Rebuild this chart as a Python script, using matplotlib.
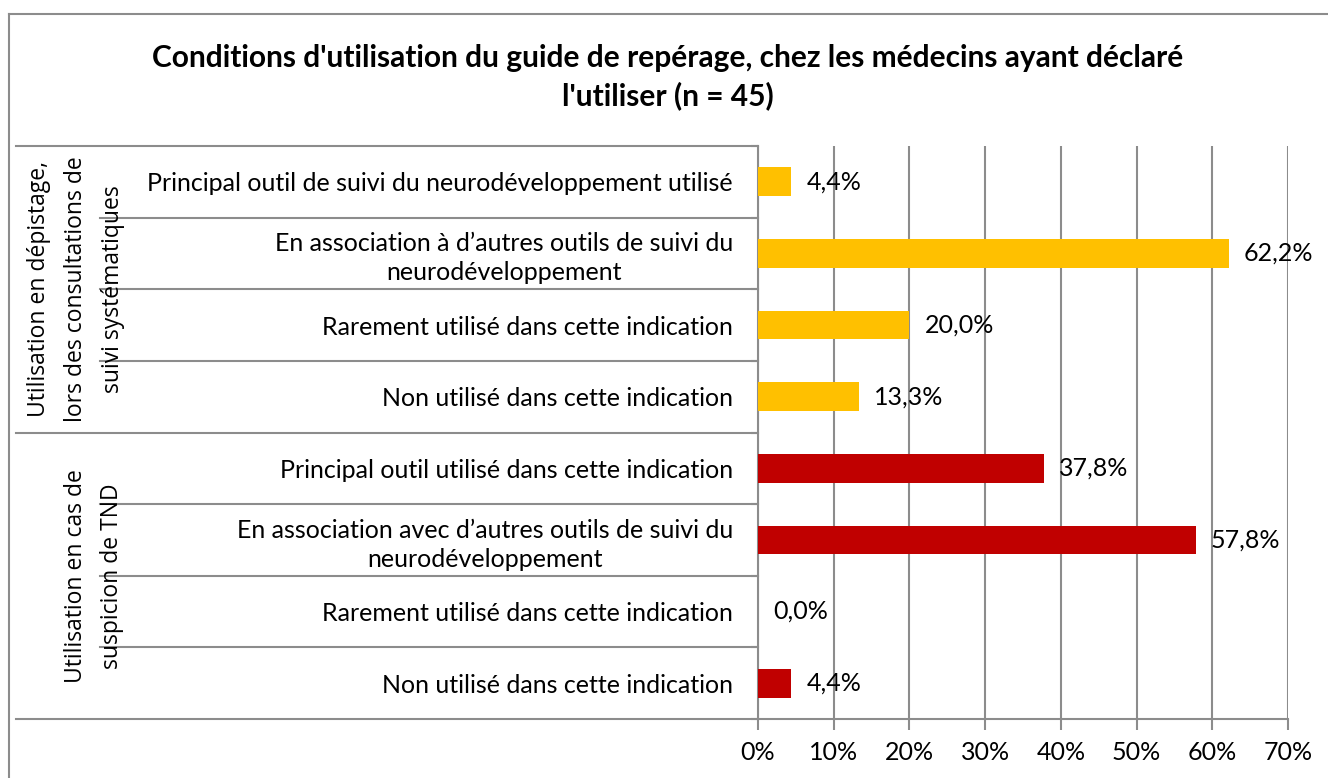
import matplotlib
matplotlib.use('Agg')
import matplotlib.pyplot as plt
from matplotlib.lines import Line2D
import matplotlib.transforms as mtrans

# data
categories = [
    "Principal outil de suivi du neurodéveloppement utilisé",
    "En association à d\u2019autres outils de suivi du\nneurodéveloppement",
    "Rarement utilisé dans cette indication",
    "Non utilisé dans cette indication",
    "Principal outil utilisé dans cette indication",
    "En association avec d\u2019autres outils de suivi du\nneurodéveloppement",
    "Rarement utilisé dans cette indication",
    "Non utilisé dans cette indication",
]
values = [4.4, 62.2, 20.0, 13.3, 37.8, 57.8, 0.0, 4.4]
groups = ["Utilisation en dépistage,\nlors des consultations de\nsuivi systématiques",
          "Utilisation en cas de\nsuspicion de TND"]
group_sizes = [4, 4]
group_colors = ["#FFC000", "#C00000"]
xticks = [0, 10, 20, 30, 40, 50, 60, 70]
title = "Conditions d'utilisation du guide de repérage, chez les médecins ayant déclaré\nl'utiliser (n = 45)"

W, H = 1328, 778
grey = "#8c8c8c"
lab_font = ['Lato', 'DejaVu Sans']

fig = plt.figure(figsize=(W / 100, H / 100), dpi=100)
x0, x1, y0, y1 = 758, 1288, 146, 719
ax = fig.add_axes([x0 / W, 1 - y1 / H, (x1 - x0) / W, (y1 - y0) / H])

colors = []
for c, n in zip(group_colors, group_sizes):
    colors += [c] * n
ypos = list(range(len(values)))
ax.barh(ypos, values, height=0.4, color=colors, zorder=3)

for y, v in zip(ypos, values):
    ax.text(v + 2.0, y, f"{v:.1f}%".replace('.', ','), va='center', ha='left',
            fontsize=18, family=lab_font, zorder=4)

ax.set_xlim(0, 70)
ax.set_ylim(len(values) - 0.5, -0.5)
ax.set_xticks(xticks)
ax.set_xticklabels([f"{t}%" for t in xticks], fontsize=18, family=lab_font)
ax.tick_params(axis='x', length=8, width=1.5, color=grey, pad=8)
ax.xaxis.grid(True, color=grey, lw=1.5, zorder=0)

ax.set_yticks(ypos)
ax.set_yticklabels(categories, fontsize=18, family=lab_font, linespacing=1.3)
for lab in ax.get_yticklabels():
    lab.set_multialignment('center')
ax.tick_params(axis='y', which='major', length=0, pad=18)
ax.set_yticks([i - 0.5 for i in range(len(values) + 1)], minor=True)
ax.tick_params(axis='y', which='minor', length=5, width=1.5, color=grey)

for s in ['top', 'right']:
    ax.spines[s].set_visible(False)
for s in ['left', 'bottom']:
    ax.spines[s].set_color(grey)
    ax.spines[s].set_linewidth(1.5)

# separators in the label area
trans = mtrans.blended_transform_factory(ax.transAxes, ax.transData)
ax_w = x1 - x0
start = 0
group_x = [76, 94]
for gi, (g, n) in enumerate(zip(groups, group_sizes)):
    for k in range(1, n):
        yy = start + k - 0.5
        ax.add_line(Line2D([(100 - x0) / ax_w, 0], [yy, yy], transform=trans,
                           color=grey, lw=1.5, clip_on=False))
    ax.add_line(Line2D([(16 - x0) / ax_w, 0], [start - 0.5, start - 0.5], transform=trans,
                       color=grey, lw=1.5, clip_on=False))
    mid = start + (n - 1) / 2
    ax.text((group_x[gi] - x0) / ax_w, mid, g, transform=trans, rotation=90,
            ha='center', va='center', multialignment='center', fontsize=16.5,
            family=['Open Sans', 'DejaVu Sans'], linespacing=1.7)
    start += n
ax.add_line(Line2D([(16 - x0) / ax_w, 0], [start - 0.5, start - 0.5], transform=trans,
                   color=grey, lw=1.5, clip_on=False))

# chart border
fig.add_artist(Line2D([9 / W, 9 / W], [0, 1 - 14 / H], color=grey, lw=1.5))
fig.add_artist(Line2D([9 / W, 1], [1 - 14 / H, 1 - 14 / H], color=grey, lw=1.5))

fig.text(668 / W, 1 - 77 / H, title, ha='center', va='center', fontsize=21.5,
         fontweight='bold', family=lab_font, linespacing=1.35)

fig.savefig('out.png', dpi=100)
